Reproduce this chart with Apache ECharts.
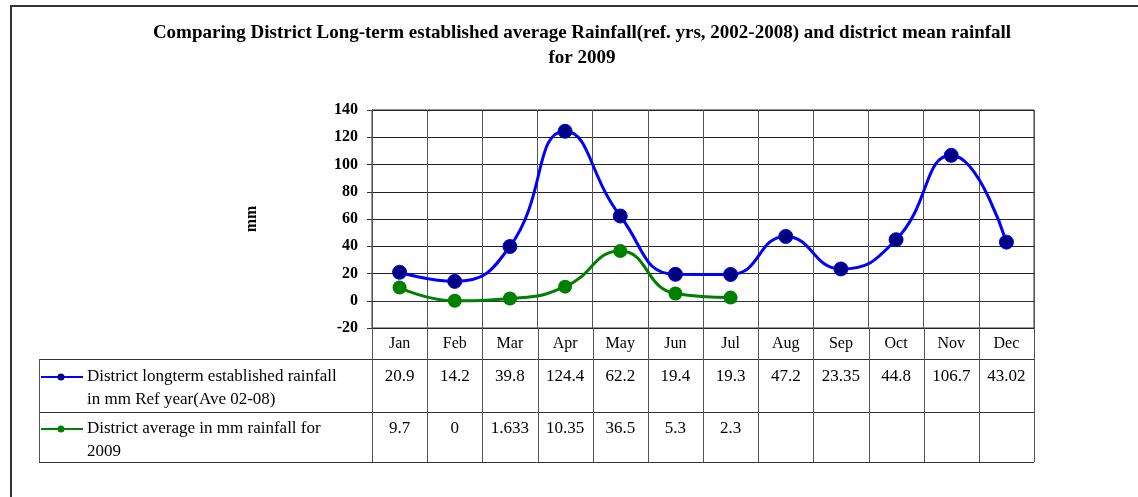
<!DOCTYPE html>
<html>
<head>
    <meta charset="utf-8">
    <title>District Rainfall</title>
    <script src="https://cdn.jsdelivr.net/npm/echarts@6/dist/echarts.min.js"></script>
</head>
<body style="margin:0px;background:#fff;">
    <div id="main" style="width: 1138px;height:497px;"></div>
    <script type="text/javascript">
    var months = ['Jan','Feb','Mar','Apr','May','Jun','Jul','Aug','Sep','Oct','Nov','Dec'];
    var refRain = [20.9, 14.2, 39.8, 124.4, 62.2, 19.4, 19.3, 47.2, 23.35, 44.8, 106.7, 43.02];
    var rain2009 = [9.7, 0, 1.633, 10.35, 36.5, 5.3, 2.3];
    var refLabel = ['District longterm established rainfall', 'in mm Ref year(Ave 02-08)'];
    var label2009 = ['District average in mm rainfall for', '2009'];
    var titleText = 'Comparing District Long-term established average Rainfall(ref. yrs, 2002-2008) and district mean rainfall\nfor 2009';
    </script>
    <script type="text/javascript">
        var serif = 'Liberation Serif';
        var gridCol = '#333';
        var myChart = echarts.init(document.getElementById('main'));

        var option = {
            backgroundColor: '#fff',
            animation: false,
            title: {
                text: titleText,
                left: 577,
                top: 16,
                textAlign: 'center',
                textStyle: {
                    fontFamily: serif,
                    fontWeight: 'bold',
                    fontSize: 19,
                    lineHeight: 25,
                    color: '#000'
                }
            },
            grid: {
                left: 372, top: 110, width: 662, height: 218,
                show: true, borderColor: gridCol, borderWidth: 1
            },
            xAxis: {
                type: 'category',
                data: months,
                boundaryGap: true,
                axisLine: {lineStyle: {color: gridCol}},
                axisTick: {show: false},
                axisLabel: {interval: 0, margin: 8, fontFamily: serif, fontSize: 16, color: '#000'},
                splitLine: {show: true, interval: 0, lineStyle: {color: '#555', width: 1}}
            },
            yAxis: {
                type: 'value',
                min: -20, max: 140, interval: 20,
                name: 'mm',
                nameLocation: 'middle',
                nameRotate: 90,
                nameGap: 112,
                nameTextStyle: {fontFamily: serif, fontWeight: 'bold', fontSize: 16, color: '#000'},
                axisLine: {show: true, lineStyle: {color: '#555'}},
                axisTick: {show: true, length: 5, inside: false, lineStyle: {color: gridCol}},
                axisLabel: {margin: 14, fontFamily: serif, fontWeight: 'bold', fontSize: 16, color: '#000'},
                splitLine: {show: true, lineStyle: {color: '#222', width: 1}}
            },
            series: [
                {
                    name: refLabel.join(' '),
                    type: 'line',
                    data: refRain,
                    smooth: 0.5,
                    symbol: 'circle',
                    symbolSize: 14,
                    lineStyle: {color: '#0000ff', width: 3},
                    itemStyle: {color: '#000080', borderColor: '#0000ff', borderWidth: 1}
                },
                {
                    name: label2009.join(' '),
                    type: 'line',
                    data: rain2009,
                    smooth: 0.5,
                    symbol: 'circle',
                    symbolSize: 14,
                    lineStyle: {color: '#008000', width: 3},
                    itemStyle: {color: '#008000'}
                }
            ]
        };
        myChart.setOption(option);

        // data table under the plot, placed from the axis scale
        var c0 = myChart.convertToPixel({xAxisIndex: 0}, months[0]);
        var c1 = myChart.convertToPixel({xAxisIndex: 0}, months[1]);
        var band = c1 - c0;
        var axisY = myChart.convertToPixel({yAxisIndex: 0}, -20);
        var tableLeft = 39;
        var row0 = axisY + 31, row1 = row0 + 53, row2 = row1 + 50;
        var right = c0 - band / 2 + band * months.length;
        var g = [];
        function px(v) { return Math.round(v) + 0.5; }
        function hline(y, x1, x2) {
            g.push({type: 'line', silent: true, shape: {x1: x1, y1: px(y), x2: x2, y2: px(y)}, style: {stroke: gridCol, lineWidth: 1}});
        }
        function vline(x, y1, y2) {
            g.push({type: 'line', silent: true, shape: {x1: px(x), y1: y1, x2: px(x), y2: y2}, style: {stroke: '#555', lineWidth: 1}});
        }
        function txt(x, y, s, align) {
            g.push({type: 'text', silent: true, x: x, y: y, style: {text: s, fill: '#000', font: '17px "Liberation Serif"', align: align || 'center', verticalAlign: 'middle'}});
        }
        hline(row0, tableLeft, right);
        hline(row1, tableLeft, right);
        hline(row2, tableLeft, right);
        vline(tableLeft, row0, row2);
        for (var i = 0; i <= months.length; i++) {
            vline(c0 - band / 2 + band * i, axisY, row2);
        }
        for (var i = 0; i < refRain.length; i++) {
            txt(c0 + band * i, row0 + 18, String(refRain[i]));
        }
        for (var i = 0; i < rain2009.length; i++) {
            txt(c0 + band * i, row1 + 17, String(rain2009[i]));
        }
        // legend keys
        var keys = [[row0 + 18, '#0000ff', '#000080', refLabel], [row1 + 17, '#008000', '#008000', label2009]];
        keys.forEach(function (k) {
            g.push({type: 'line', silent: true, shape: {x1: 41, y1: k[0], x2: 83, y2: k[0]}, style: {stroke: k[1], lineWidth: 2}});
            g.push({type: 'circle', silent: true, shape: {cx: 61, cy: k[0], r: 3.5}, style: {fill: k[2]}});
            txt(87, k[0], k[3][0], 'left');
            txt(87, k[0] + 23, k[3][1], 'left');
        });
        // outer frame
        g.push({type: 'rect', silent: true, shape: {x: 11, y: 6, width: 1140, height: 500}, style: {fill: null, stroke: '#333', lineWidth: 2}});

        myChart.setOption({graphic: g});
    </script>
</body>
</html>
